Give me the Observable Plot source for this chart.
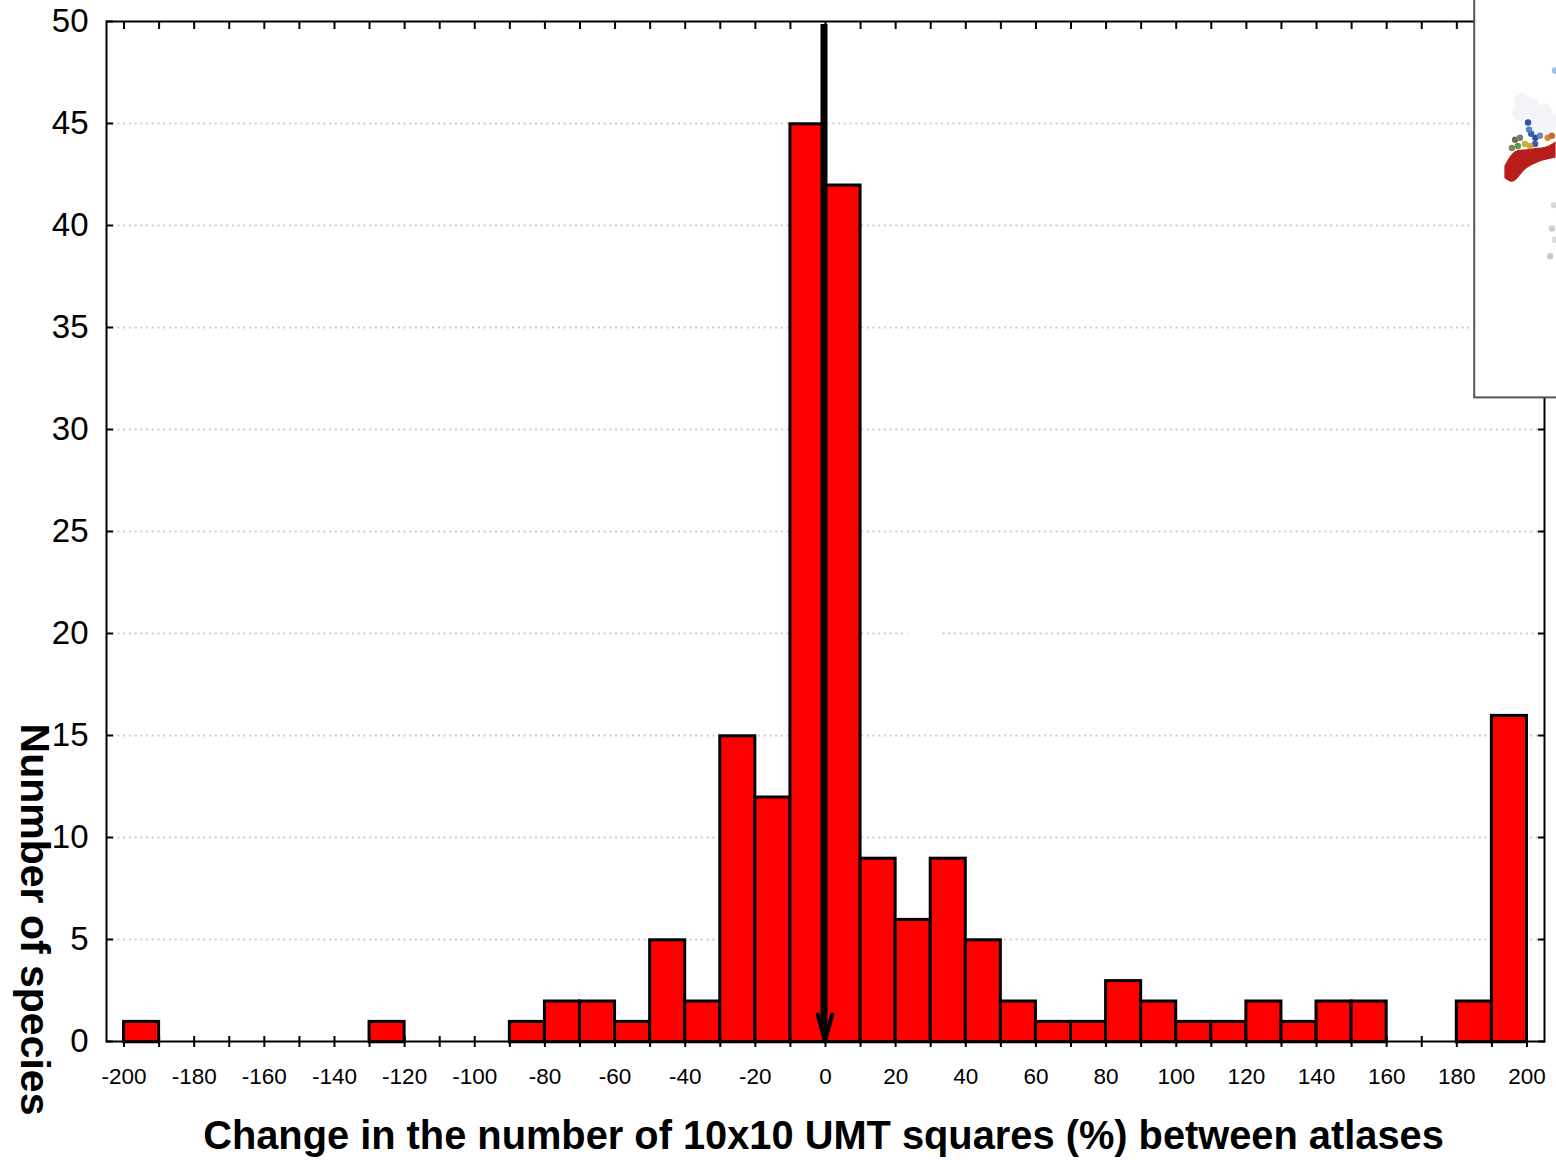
<!DOCTYPE html>
<html>
<head>
<meta charset="utf-8">
<script src="https://cdn.jsdelivr.net/npm/d3@7"></script>
<script src="https://cdn.jsdelivr.net/npm/@observablehq/plot@0.6"></script>
<style>
html,body{margin:0;padding:0;background:#fff;overflow:hidden}
svg{display:block}
</style>
</head>
<body>
<div id="chart"></div>
<script>
const binStart = [-200,-130,-90,-80,-70,-60,-50,-40,-30,-20,-10,0,10,20,30,40,50,60,70,80,90,100,110,120,130,140,150,180,190];
const species  = [1,1,1,2,2,1,5,2,15,12,45,42,9,6,9,5,2,1,1,3,2,1,1,2,1,2,2,2,16];
const binWidth = 10;
const xTicks = d3.range(-200, 201, 10);
const xLabels = d3.range(-200, 201, 20);
const yLabels = d3.range(0, 51, 5);
const gridLevels = [5,10,15,25,30,35,40,45];
const gridSplit = [{y:20,x1:-205,x2:23.5},{y:20,x1:33.5,x2:205}];
const xTitle = "Change in the number of 10x10 UMT squares (%) between atlases";
const yTitle = "Nunmber of species";

// inset map remnant (positions read in chart units)
const insetBox = {x1:185.1, x2:212, y1:31.55, y2:53};
const mapBandX = [193.7,196,198,199.7,203.4,205.4,208.3];
const mapBandTop = [42.9,43.6,43.7,43.7,43.8,43.8,44.1];
const mapBandBottom = [42.3,42.0,42.4,42.8,43.1,43.2,43.3];
const mapPaleX = [198.6,200.9,198,202.3,205.1,207.1,205.1,201.4];
const mapPaleY = [46.1,45.9,45.5,45.4,45.6,45.1,44.8,44.9];
const mapDotX = [200.3,201.2,202.4,200.6,203.7,202.3,196.6,198,195.7,205.9,207.1,200.9,197.4,199.4,208,207.7,207.1,208,206.6];
const mapDotY = [45.05,44.5,44.3,44.7,44.4,44.0,44.2,44.3,43.8,44.3,44.4,43.9,43.9,44,47.6,41,39.85,39.3,38.5];
const mapDotC = ["#2f55a5","#3a5fa8","#2b4f9e","#5b7fc0","#6d87b8","#3a5fa8","#6a6f4a","#6f7f70","#7a8a55","#d98a30","#c96a2a","#e0a030","#5a9a4a","#c8b040","#9cc0e0","#d8d8d8","#d0d0d0","#d8d8d8","#c8c8c8"];

const bars = binStart.map((s,i)=>({x1:s,x2:s+binWidth,y:species[i]}));
const band = mapBandX.map((x,i)=>({x,y1:mapBandTop[i],y2:mapBandBottom[i]}));
const pale = mapPaleX.map((x,i)=>({x,y:mapPaleY[i]}));
const dots = mapDotX.map((x,i)=>({x,y:mapDotY[i],c:mapDotC[i]}));
const ink = "#000";

const chart = Plot.plot({
  width:1556, height:1160,
  marginTop:21, marginRight:12, marginBottom:119, marginLeft:106,
  style:{fontFamily:"'Liberation Sans', Arial, sans-serif", background:"#fff", color:"#000"},
  x:{domain:[-205,205]},
  y:{domain:[0,50]},
  marks:[
    Plot.ruleY(gridLevels,{x1:-205,x2:205,stroke:"#cccccc",strokeWidth:2,strokeDasharray:"2 3.72"}),
    Plot.ruleY(gridSplit,{y:"y",x1:"x1",x2:"x2",stroke:"#cccccc",strokeWidth:2,strokeDasharray:"2 3.72"}),
    Plot.rectY(bars,{x1:"x1",x2:"x2",y:"y",fill:"#ff0000",stroke:ink,strokeWidth:3,dy:0.8}),
    Plot.frame({stroke:ink,strokeWidth:2}),
    Plot.axisX({anchor:"bottom",ticks:xTicks,tickSize:11,dy:-5,strokeWidth:2,stroke:ink,fill:"none",label:null}),
    Plot.axisX({anchor:"top",ticks:xTicks,tickSize:-7,strokeWidth:2,stroke:ink,fill:"none",label:null}),
    Plot.axisX({anchor:"bottom",ticks:xLabels,tickSize:0,tickPadding:27,fontSize:22.5,label:null,tickFormat:d=>String(d)}),
    Plot.axisY({anchor:"left",ticks:yLabels,tickSize:0,tickPadding:18,fontSize:33,label:null}),
    Plot.axisY({anchor:"left",ticks:yLabels,tickSize:-7,strokeWidth:2,stroke:ink,fill:"none",label:null}),
    Plot.axisY({anchor:"right",ticks:yLabels,tickSize:-7,strokeWidth:2,stroke:ink,fill:"none",label:null}),
    Plot.rect([insetBox],{x1:"x1",x2:"x2",y1:"y1",y2:"y2",fill:"#fff",stroke:"#555",strokeWidth:2}),
    Plot.dot(pale,{x:"x",y:"y",r:8,fill:"#f3f4f8"}),
    Plot.areaY(band,{x:"x",y1:"y1",y2:"y2",fill:"#b81f1c",curve:"basis"}),
    Plot.dot(dots,{x:"x",y:"y",r:3.2,fill:"c"}),
    Plot.ruleX([0],{y1:0.5,y2:49.85,stroke:ink,strokeWidth:7,dx:-1.5}),
    Plot.arrow([{v:0}],{x1:"v",x2:"v",y1:5,y2:0,stroke:ink,strokeWidth:4,headLength:10.5,headAngle:30,dx:-0.5}),
    Plot.text([xTitle],{frameAnchor:"bottom",dy:107,dx:-2,fontSize:39.8,fontWeight:"bold",fill:ink}),
    Plot.text([yTitle],{frameAnchor:"left",textAnchor:"middle",rotate:90,dx:-72,dy:388,fontSize:41,fontWeight:"bold",fill:ink})
  ]
});
document.getElementById("chart").append(chart);
</script>
</body>
</html>
